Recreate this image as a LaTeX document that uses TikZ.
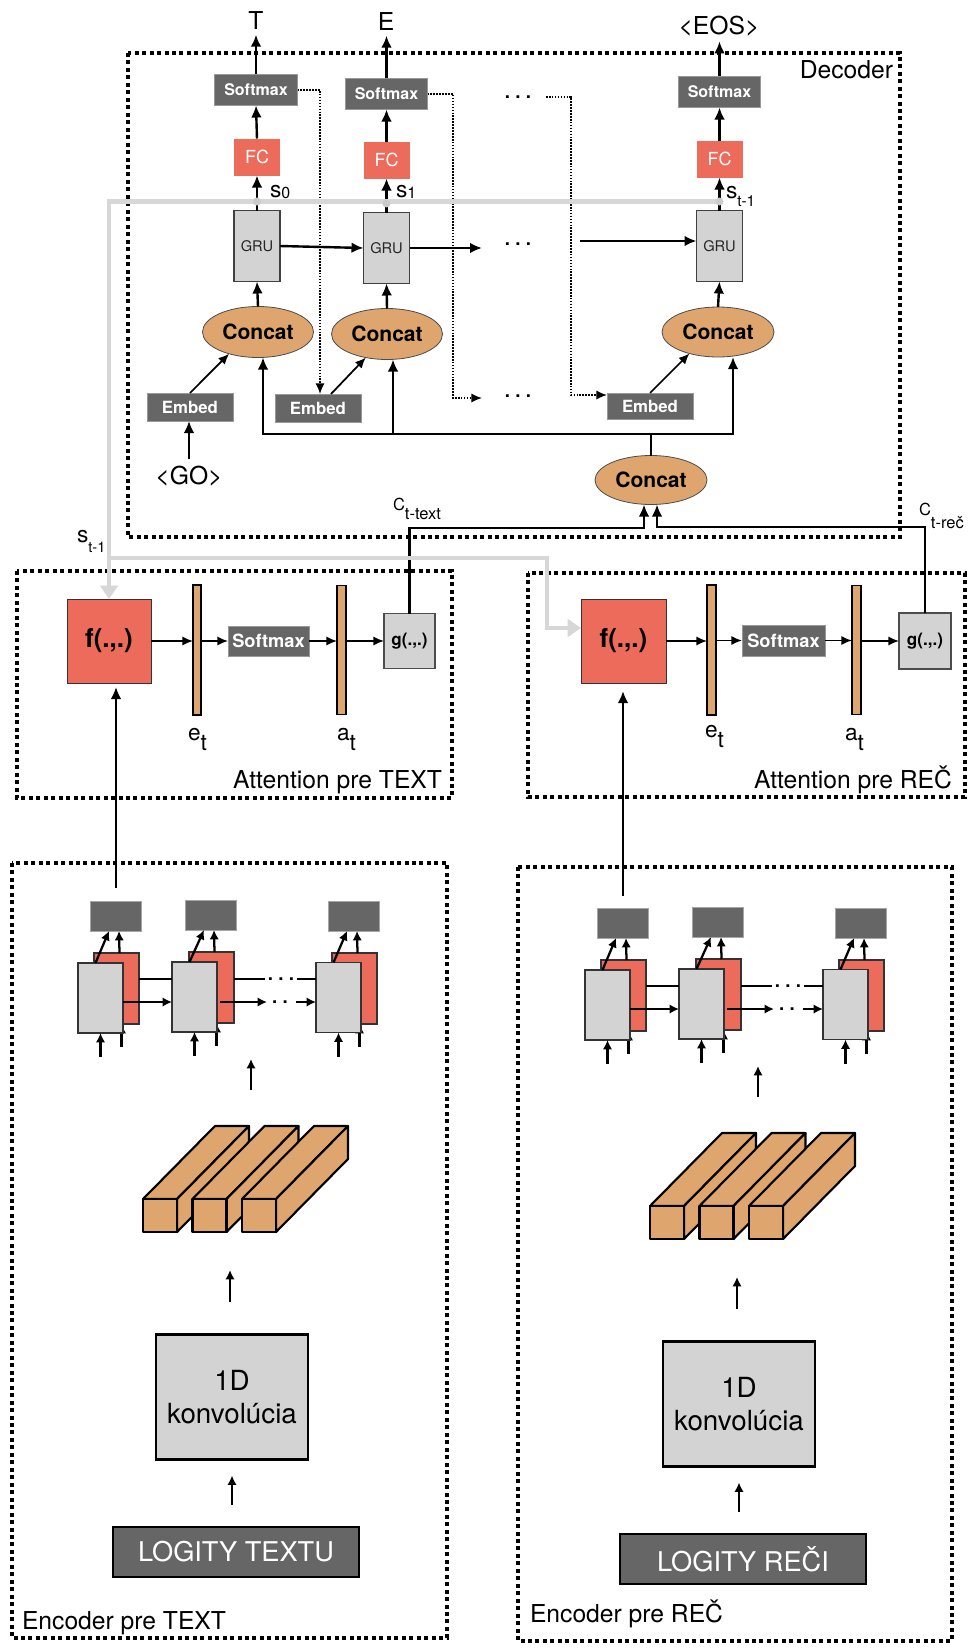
\documentclass[tikz,border=0pt]{standalone}
\usepackage{fontspec}
\setmainfont{TeX Gyre Heros}
\usetikzlibrary{arrows.meta,shapes.geometric,calc}
\definecolor{dkg}{HTML}{666666}
\definecolor{salmon}{HTML}{EC6B5A}
\definecolor{ltg}{HTML}{D3D3D3}
\definecolor{tanc}{HTML}{DEA66E}
\definecolor{gline}{HTML}{D7D7D7}
\newcommand\fz[1]{\fontsize{#1}{#1}\selectfont}
\tikzset{
  sz/.style 2 args={minimum width=#1*0.75pt,minimum height=#2*0.75pt},
  bx/.style={rectangle,inner sep=0pt,outer sep=0pt},
  dk/.style={bx,fill=dkg,draw=black!40,line width=0.5pt,text=white},
  fcbox/.style={bx,fill=salmon,text=white,sz={46}{37},font=\fz{13.5}},
  grubox/.style={bx,fill=ltg,draw=black!75,line width=0.9pt,sz={46}{71},font=\fz{11},text=black!85},
  cc/.style={ellipse,inner sep=0pt,outer sep=0pt,fill=tanc,draw=black!70,line width=0.6pt,font=\bfseries\fz{15.8}},
  emb/.style={dk,sz={86}{28},font=\bfseries\fz{12.6}},
  lbl/.style={inner sep=3.5pt,outer sep=0pt,font=\fz{18.5}},
  tx/.style={inner sep=0pt,outer sep=0pt},
  dots/.style={inner sep=0pt,outer sep=0pt,font=\bfseries\fz{14}},
  fbox/.style={bx,fill=salmon,draw=black!80,line width=0.6pt,font=\bfseries\fz{19.5}},
  gbox/.style={bx,fill=ltg,draw=black!70,line width=0.9pt,font=\bfseries\fz{12.8}},
  barn/.style={bx,fill=tanc,draw=black,line width=1pt},
  arr/.style={line width=1.8pt,-{Latex[length=9pt,width=8pt]}},
  arrs/.style={line width=1.3pt,-{Latex[length=8pt,width=7pt]}},
  earr/.style={line width=1.7pt,-{Latex[length=7pt,width=7pt]}},
  eln/.style={line width=1.7pt},
  ln/.style={line width=1.8pt},
  dotarr/.style={line width=1.2pt,dash pattern=on 1.2pt off 1pt,-{Latex[length=8pt,width=7pt]}},
  grayarr/.style={line width=3.2pt,draw=gline,-{Triangle[length=10pt,width=13pt]}},
  frame/.style={line width=2.7pt,dash pattern=on 3pt off 2.6pt},
  hrect/.style={bx,fill=dkg,draw=black!35,line width=0.5pt,sz={51}{30}},
  rcell/.style={bx,fill=salmon,draw=black!80,line width=0.8pt,sz={45}{71}},
  gcell/.style={bx,fill=ltg,draw=black!80,line width=0.9pt,sz={45}{70}},
  beam/.style={fill=tanc,draw=black,line width=1.6pt,line join=round},
  konvbox/.style={bx,fill=ltg,draw=black,line width=1.6pt,sz={152}{125},align=center,font=\fontsize{20.8}{25}\selectfont},
  logit/.style={bx,fill=dkg,draw=black,line width=1.6pt,sz={246}{50},text=white,font=\fz{20.4}}
}
\newcommand\encoderpart[4]{%
\begin{scope}[shift={(#2,#3)}]
  \node[hrect] (#1h1) at (116,916) {};
  \node[hrect] (#1h2) at (211,915) {};
  \node[hrect] (#1h3) at (354,916) {};
  \node[rcell] (#1r1) at (116.5,988.5) {};
  \node[rcell] (#1r2) at (211.5,987.5) {};
  \node[rcell] (#1r3) at (354.5,988.5) {};
  \foreach \k in {1,2,3}{
    \draw[earr] ($(#1r\k.south)+(5,23)$) -- ($(#1r\k.south)+(5,0)$);
  }
  \node[gcell] (#1c1) at (100.5,998) {};
  \node[gcell] (#1c2) at (194.5,997) {};
  \node[gcell] (#1c3) at (338.5,997.5) {};
  \foreach \k in {1,2,3}{
    \draw[earr] ($(#1c\k.south)+(0,24)$) -- (#1c\k.south);
    \draw[earr] ($(#1c\k.north)+(-5,0)$) -- ($(#1h\k.south)+(-7,0)$);
    \draw[earr] ($(#1r\k.north)+(3,0)$) -- ($(#1h\k.south)+(3,0)$);
  }
  \draw[eln] ($(#1r1.east)+(0,-9.5)$) coordinate (#1u1) -- (#1u1 -| #1c2.west);
  \draw[earr] ($(#1c1.east)+(0,4)$) coordinate (#1l1) -- (#1l1 -| #1c2.west);
  \draw[eln] ($(#1r2.east)+(0,-8.5)$) coordinate (#1u2) -- ++(31,0);
  \node[dots] (#1ud) at ($(#1u2)+(47,0)$) {.\kern4pt.\kern4pt.};
  \coordinate (#1u3) at ($(#1u2)+(63,0)$);
  \draw[eln] (#1u3) -- (#1u3 -| #1c3.west);
  \draw[earr] ($(#1c2.east)+(3,5)$) coordinate (#1l2) -- ++(47,0);
  \node[dots] (#1ld) at ($(#1l2)+(60,0)$) {.\kern4pt.};
  \draw[earr] ($(#1l2)+(76,0)$) coordinate (#1l3) -- (#1l3 -| #1c3.west);
  \foreach \i in {0,1,2}{
    \pgfmathsetmacro\bx{143+49.5*\i}
    \filldraw[beam] (\bx,1199) -- ++(72,-73) -- ++(34,0) -- ++(-72,73) -- cycle;
    \filldraw[beam] (\bx+34,1199) -- ++(72,-73) -- ++(0,33) -- ++(-72,73) -- cycle;
    \filldraw[beam] (\bx,1199) rectangle ++(34,33);
  }
  \coordinate (#1a1) at (251,1090);
  \coordinate (#1a2) at (251,1059);
  \draw[earr] (#1a1) -- (#1a2);
  \coordinate (#1a3) at (230,1302);
  \coordinate (#1a4) at (230,1270);
  \draw[earr] (#1a3) -- (#1a4);
  \node[konvbox] (#1k) at (232,1397) {1D\\konvolúcia};
  \node[logit] (#1L) at (236,1552) {#4};
  \draw[earr,shorten <=16.5pt,shorten >=12pt] (#1k.south |- #1L.north) -- (#1k.south);
\end{scope}}

\begin{document}
\begin{tikzpicture}[x=0.75pt,y=-0.75pt]
\useasboundingbox (0,0) rectangle (969,1652);
\fill[white] (0,0) rectangle (969,1652);

% ---------- frames ----------
\draw[frame] (128,53) rectangle (900,537);
\draw[frame] (17,571) rectangle (452,798);
\draw[frame] (528,573) rectangle (965,797);
\draw[frame] (12,863) rectangle (447,1638);
\draw[frame] (518,867) rectangle (952,1641);

\node[tx,anchor=base east,font=\fz{18.5}] (decl) at (893,79) {Decoder};
\node[tx,anchor=base east,font=\fz{18.5}] (attl1) at (442,788) {Attention pre TEXT};
\node[tx,anchor=base east,font=\fz{18.5}] (attl2) at (952,788) {Attention pre REČ};
\node[tx,anchor=base west,font=\fz{18.5}] (encl1) at (22,1629) {Encoder pre TEXT};
\node[tx,anchor=base west,font=\fz{18.5}] (encl2) at (530,1622) {Encoder pre REČ};

% ---------- decoder ----------
\node[dk,sz={83}{31},font=\bfseries\fz{12}] (sm1) at (256,90) {Softmax};
\node[dk,sz={82}{31},font=\bfseries\fz{12}] (sm2) at (386.5,94) {Softmax};
\node[dk,sz={82}{31},font=\bfseries\fz{12}] (sm3) at (719.5,92) {Softmax};
\node[fcbox] (fc1) at (257,157) {FC};
\node[fcbox] (fc2) at (386.5,160) {FC};
\node[fcbox] (fc3) at (719.5,159) {FC};
\node[grubox] (gru1) at (257,246) {GRU};
\node[grubox] (gru2) at (386.5,248) {GRU};
\node[grubox] (gru3) at (719.5,246) {GRU};
\node[cc,sz={111}{51}] (cc1) at (258,332) {Concat};
\node[cc,sz={111}{51}] (cc2) at (387,334) {Concat};
\node[cc,sz={112}{50}] (cc3) at (718,332) {Concat};
\node[cc,sz={112}{49}] (ccb) at (651,480) {Concat};
\node[emb] (emb1) at (190,407) {Embed};
\node[emb] (emb2) at (318,408) {Embed};
\node[emb,sz={86}{26}] (emb3) at (650,406) {Embed};

\node[lbl,anchor=base] (oT) at (256,30) {T};
\node[lbl,anchor=base] (oE) at (386,31) {E};
\node[lbl,anchor=base] (oEOS) at (719,35) {<EOS>};
\node[lbl,anchor=base,inner sep=2pt] (go) at (189,484) {<GO>};

\node[dots] (dA) at (518,244) {.\kern4pt.\kern4pt.};
\node[dots] (dB) at (518,97) {.\kern4pt.\kern4pt.};
\node[dots] (dC) at (518,396) {.\kern4pt.\kern4pt.};

\draw[arr] (sm1.north) -- (sm1.north |- oT.south);
\draw[arr] (sm2.north) -- (sm2.north |- oE.south);
\draw[arr] (sm3.north) -- (sm3.north |- oEOS.south);
\draw[arr] (fc1.north) -- (sm1.south);
\draw[arr] (fc2.north) -- (sm2.south);
\draw[arr] (fc3.north) -- (sm3.south);
\draw[arr] (gru1.north) -- (fc1.south);
\draw[arr] (gru2.north) -- (fc2.south);
\draw[arr] (gru3.north) -- (fc3.south);
\draw[arr] (cc1.north) -- (gru1.south);
\draw[arr] (cc2.north) -- (gru2.south);
\draw[arr] (cc3.north) -- (gru3.south);
\draw[arr] (gru1.east) -- (gru2.west);
\coordinate (g2e) at (482,245);
\draw[arr] (gru2.east) -- (gru2.east -| g2e);
\coordinate (g3in) at (580,241);
\draw[arr] (g3in) -- (g3in -| gru3.west);

\draw[arrs] (emb1.north) -- (cc1.217);
\draw[arrs] ($(emb2.north)+(13,0)$) -- (cc2.228);
\draw[arrs] (emb3.north) -- (cc3.217);
\draw[arr,shorten <=3pt] (go.north) -- (go.north |- emb1.south);

% dotted feedback
\coordinate (d1) at (320,90);
\draw[dotarr] (sm1.east) -| (d1 |- emb2.north);
\coordinate (d2) at (453,398);
\coordinate (d2e) at (482,398);
\draw[dotarr] (sm2.east) -| (d2) -- (d2e);
\coordinate (d3s) at (546,97);
\coordinate (d3) at (571,395);
\draw[dotarr] (d3s) -| (d3) -- (d3 -| emb3.west);

% bus to concats
\coordinate (b1) at (263,434);
\coordinate (b2) at (393,434);
\coordinate (b3) at (733,434);
\draw[arr] (b3) -- (b1) -- (b1 |- cc1.south);
\draw[arr] (b1) -- (b3) -- (b3 |- cc3.south);
\draw[arr] (b2) -- (b2 |- cc2.south);
\draw[ln] (ccb.north) -- (ccb.north |- b1);

% state labels
\node[tx,anchor=base west,font=\fz{17}] (s0) at (270,197) {s\raisebox{-1pt}{\fz{12}0}};
\node[tx,anchor=base west,font=\fz{17}] (s1) at (396,197) {s\raisebox{-1pt}{\fz{12}1}};
\node[tx,anchor=base west,font=\fz{17}] (sT) at (726,198) {s\raisebox{-6.5pt}{\fz{11.5}t-1}};
\node[tx,anchor=base west,font=\fz{17}] (sA) at (77,542) {s\raisebox{-8pt}{\fz{11}t-1}};

% ---------- attention ----------
\node[fbox,sz={84}{84}] (f1) at (109,641) {f(.,.)};
\node[barn,sz={8}{130}] (eb1) at (197,650) {};
\node[dk,sz={81}{30},font=\bfseries\fz{13.7}] (asm1) at (268.5,641) {Softmax};
\node[barn,sz={9}{129}] (ab1) at (341.5,650) {};
\node[gbox,sz={51}{55}] (g1) at (409.5,641) {g(.,.)};

\node[fbox,sz={85}{84}] (f2) at (623.5,641) {f(.,.)};
\node[barn,sz={9}{130}] (eb2) at (711.5,650) {};
\node[dk,sz={83}{31},font=\bfseries\fz{13.7}] (asm2) at (783.5,640.5) {Softmax};
\node[barn,sz={9}{129}] (ab2) at (856.5,650) {};
\node[gbox,sz={52}{56}] (g2) at (925,641) {g(.,.)};

\draw[arrs] (f1.east) -- (f1.east -| eb1.west);
\draw[arrs] (eb1.east |- asm1.west) -- (asm1.west);
\draw[arrs] (asm1.east) -- (asm1.east -| ab1.west);
\draw[arrs] (ab1.east |- g1.west) -- (g1.west);
\draw[arrs] (f2.east) -- (f2.east -| eb2.west);
\draw[arrs] (eb2.east |- asm2.west) -- (asm2.west);
\draw[arrs] (asm2.east) -- (asm2.east -| ab2.west);
\draw[arrs] (ab2.east |- g2.west) -- (g2.west);

\node[tx,anchor=base west,font=\fz{17}] (et1) at (188,740) {e\raisebox{-7.5pt}{t}};
\node[tx,anchor=base west,font=\fz{17}] (at1) at (337,740) {a\raisebox{-7.5pt}{t}};
\node[tx,anchor=base west,font=\fz{17}] (et2) at (705,737) {e\raisebox{-7.5pt}{t}};
\node[tx,anchor=base west,font=\fz{17}] (at2) at (845,740) {a\raisebox{-7.5pt}{t}};

% context vectors
\coordinate (ctA) at (644,528);
\coordinate (ctB) at (657,527);
\draw[arr] (g1.north) |- (ctA) -- (ctA |- ccb.south);
\draw[arr] (g2.north) |- (ctB) -- (ctB |- ccb.south);
\node[tx,anchor=base west,font=\fz{12.4}] (ctl) at (393,510) {C\raisebox{-6.75pt}{t-text}};
\node[tx,anchor=base west,font=\fz{12.4}] (crl) at (919,515) {C\raisebox{-9.75pt}{t-reč}};

% ---------- encoders ----------
\encoderpart{T}{0}{0}{LOGITY TEXTU}
\encoderpart{R}{507}{7}{LOGITY REČI}
\draw[arr,shorten <=9.75pt,shorten >=3pt] (Th1.north) -- (Th1.north |- f1.south);
\draw[arr,shorten <=9pt,shorten >=6pt] (Rh1.north) -- (Rh1.north |- f2.south);

% ---------- gray state path ----------
\coordinate (j1) at ($(gru1.north)+(0,-9)$);
\coordinate (j2) at ($(gru2.north)+(0,-9)$);
\coordinate (j3) at ($(gru3.north)+(0,-9)$);
\draw[grayarr] (j3) -| (f1.north);
\coordinate (gA) at (109,558);
\coordinate (gB) at (547,628);
\draw[grayarr] (gA) -| (gB) -- (gB -| f2.west);
\foreach \j in {j1,j2,j3}{\fill[gline!85!gray] (\j) circle (3pt);}
\end{tikzpicture}
\end{document}
